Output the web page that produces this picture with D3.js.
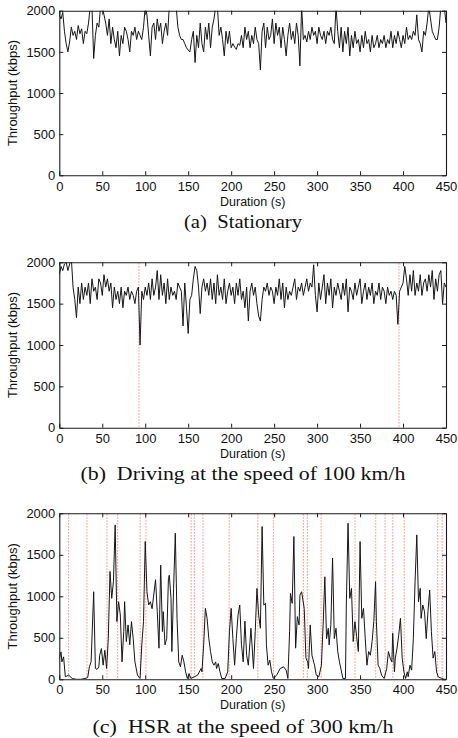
<!DOCTYPE html>
<html>
<head>
<meta charset="utf-8">
<script src="https://cdn.jsdelivr.net/npm/d3@7/dist/d3.min.js"></script>
<style>
  html, body { margin: 0; padding: 0; background: #fff; }
  svg { display: block; }
</style>
</head>
<body>
<svg id="chart" width="458" height="738"></svg>
<script>
// ---------------- data ----------------
const xTicks = [0, 50, 100, 150, 200, 250, 300, 350, 400, 450];
const yTicks = [0, 500, 1000, 1500, 2000];
const xLabel = "Duration (s)";
const yLabel = "Throughput (kbps)";
const captions = ["(a)  Stationary", "(b)  Driving at the speed of 100 km/h", "(c)  HSR at the speed of 300 km/h"];

// (a) Stationary: one sample every 2 s, from 0 s to 450 s
const stationaryStep = 2;
const stationary = [
  1950, 1900, 1980, 1750, 1600,  1500, 1620, 1800, 1700, 1750,
  1650, 1820, 1720, 1780, 1600,  1750, 1720, 1850, 2050, 2050,
  1420, 1700, 1850, 1800, 2050,  2050, 1950, 1850, 1700, 1900,
  1600, 1800, 1650, 1550, 1750,  1450, 1700, 1600, 1800, 1750,
  1650, 1500, 1750, 1700, 1800,  1650, 1750, 1700, 1650, 1800,
  2050, 1950, 1700, 1450, 1800,  1850, 1650, 1900, 1750, 1850,
  1600, 1750, 1850, 1700, 2050,  2050, 2050, 2050, 2050, 1800,
  1700, 1650, 1650, 1600, 1550,  1520, 1500, 1650, 1750, 1370,
  1700, 1550, 1850, 1600, 1500,  1800, 1650, 1850, 1550, 1800,
  1900, 2050, 2050, 1700, 1800,  1650, 1450, 1750, 1600, 1750,
  1550, 1600, 1560, 1530, 1600,  1580, 1700, 1550, 1800, 1650,
  1750, 1550, 1700, 1600, 1800,  1650, 1600, 1280, 1750, 1850,
  1550, 1800, 1650, 1700, 1900,  1600, 1850, 1700, 1800, 1550,
  1800, 1650, 1450, 1700, 1850,  1650, 1750, 1600, 1850, 1700,
  1330, 2050, 1650, 1700, 1620,  1750, 1650, 1800, 1700, 1750,
  1600, 1800, 1700, 1650, 1750,  1600, 1750, 1700, 1800, 1650,
  1600, 2050, 1750, 1550, 1800,  1500, 1750, 1600, 1800, 1450,
  1700, 1550, 1750, 1600, 1650,  1500, 1700, 1550, 1750, 1600,
  1650, 1500, 1700, 1550, 1600,  1700, 1550, 1650, 1600, 1700,
  1550, 1650, 1600, 1750, 1550,  1700, 1600, 1750, 1650, 1550,
  1700, 1600, 1800, 1650, 1700,  1650, 1750, 1700, 1950, 1650,
  1600, 1500, 1750, 1700, 1850,  2050, 1900, 1750, 1700, 1650,
  1650, 1800, 2050, 2050, 2050,  1850
];

// (b) Driving at 100 km/h: one sample every 2 s
const drivingStep = 2;
const driving = [
  1850, 1950, 1900, 1980, 2000,  1900, 1980, 2050, 1700, 1550,
  1330, 1700, 1500, 1750, 1550,  1700, 1600, 1750, 1500, 1800,
  1650, 1700, 1550, 1800, 1750,  1600, 1850, 1700, 1800, 1650,
  1750, 1450, 1700, 1550, 1650,  1500, 1700, 1450, 1650, 1600,
  1700, 1550, 1650, 1600, 1500,  1650, 1700, 1000, 1650, 1550,
  1700, 1600, 1750, 1550, 1800,  1600, 1700, 1900, 1550, 1850,
  1600, 1750, 1500, 1800, 1550,  1700, 1600, 1650, 1550, 1750,
  1700, 1650, 1230, 1750, 1450,  1140, 1550, 1600, 1800, 1950,
  1900, 1700, 1380, 1700, 1800,  1650, 1750, 1600, 1800, 1550,
  1750, 1500, 1850, 1600, 1700,  1550, 1800, 1500, 1650, 1750,
  1600, 1700, 1500, 1750, 1600,  1800, 1550, 1650, 1450, 1700,
  1290, 1650, 1750, 1600, 1700,  1500, 1350, 1290, 1550, 1700,
  1650, 1750, 1600, 1700, 1650,  1500, 1700, 1600, 1800, 1550,
  1750, 1450, 1700, 1550, 1650,  1600, 1700, 1800, 1550, 1700,
  1650, 1750, 1600, 1700, 1800,  1650, 1750, 1700, 1970, 1600,
  1400, 1750, 1550, 1700, 1850,  1500, 1750, 1600, 1800, 1450,
  1700, 1600, 1750, 1650, 1550,  1750, 1600, 1800, 1400, 1700,
  1650, 1550, 1750, 1600, 1700,  1800, 1500, 1650, 1750, 1550,
  1700, 1600, 1750, 1500, 1650,  1600, 1750, 1550, 1700, 1650,
  1500, 1700, 1600, 1650, 1550,  1650, 1600, 1250, 1650, 1700,
  1750, 1950, 1800, 1600, 1850,  1650, 1900, 1600, 1750, 1650,
  1850, 1600, 1750, 1800, 1650,  1850, 1700, 1900, 1550, 1800,
  1650, 1850, 1900, 1500, 1750,  1700
];
const drivingHandoffs = [92.7, 395.3];

// (c) HSR at 300 km/h: [time (s), throughput (kbps)]
const hsrTime = [
  0, 2, 3, 5, 7, 11, 15, 20, 25, 30, 33, 35, 37, 40, 42, 44, 46, 47, 49, 51,
  53, 55, 57, 59, 61, 63, 65, 67, 69, 71, 73, 75, 76, 78, 80, 82, 84, 86, 88, 91,
  94, 96, 98, 100, 102, 104, 106, 108, 112, 114, 116, 118, 120, 121, 123, 125, 127, 128, 130, 131,
  133, 135, 137, 139, 141, 143, 145, 147, 149, 151, 153, 157, 161, 165, 166, 168, 170, 172, 174, 176,
  178, 180, 182, 183, 185, 187, 189, 193, 196, 198, 200, 202, 204, 206, 208, 210, 212, 214, 216, 218,
  220, 223, 226, 228, 230, 232, 234, 236, 238, 240, 241, 243, 245, 247, 249, 253, 257, 261, 264, 266,
  268, 269, 271, 273, 275, 277, 279, 280, 282, 285, 287, 289, 290, 292, 294, 297, 299, 302, 305, 307,
  309, 311, 313, 314, 316, 318, 320, 322, 324, 326, 328, 330, 333, 334, 336, 338, 340, 342, 344, 346,
  348, 350, 352, 354, 356, 358, 360, 362, 364, 366, 368, 369, 371, 373, 375, 378, 381, 383, 385, 387,
  388, 390, 391, 393, 395, 397, 399, 401, 403, 405, 406, 408, 410, 412, 414, 416, 418, 420, 421, 423,
  425, 427, 429, 431, 433, 435, 437, 439, 441, 445, 448, 450
];
const hsrThroughput = [
  250, 330, 210, 270, 30, 50, 10, 0, 0, 10, 20, 150, 210, 1055, 130, 120, 150, 290, 370, 170,
  350, 130, 490, 1300, 975, 1180, 1860, 695, 935, 775, 210, 575, 935, 455, 655, 415, 695, 490, 210, 50,
  10, 415, 695, 1660, 1055, 895, 935, 850, 1200, 815, 375, 1375, 575, 815, 415, 490, 1215, 1255, 975, 335,
  1095, 1760, 735, 210, 150, 290, 210, 90, 10, 70, 10, 30, 50, 130, 90, 415, 855, 735, 490, 335,
  210, 170, 210, 130, 190, 90, 10, 10, 90, 575, 855, 490, 170, 490, 775, 895, 415, 210, 700, 290,
  170, 615, 130, 575, 1095, 775, 615, 1840, 895, 915, 415, 170, 230, 90, 10, 50, 130, 150, 110, 10,
  575, 1035, 915, 1720, 375, 755, 655, 1015, 1055, 855, 255, 210, 130, 655, 290, 170, 50, 30, 170, 655,
  1235, 490, 615, 415, 655, 1460, 490, 615, 335, 210, 110, 10, 10, 895, 1880, 975, 1095, 455, 695, 515,
  335, 1660, 735, 855, 490, 170, 335, 290, 455, 695, 1175, 695, 170, 130, 50, 10, 130, 335, 255, 210,
  555, 90, 255, 375, 535, 735, 255, 90, 10, 90, 30, 170, 110, 490, 1175, 1740, 935, 1095, 735, 895,
  815, 490, 815, 1075, 575, 255, 335, 90, 30, 10, 0, 0
];
const hsrHandoffs = [10.8, 32.2, 55.5, 67.8, 94.2, 100.8, 153.5, 157.3, 167.1, 197.7, 231, 249.2,
  284.1, 288.7, 304.7, 344.2, 368.2, 379.1, 388, 401.5, 440.3, 445.7];

// ---------------- layout ----------------
const svg = d3.select("#chart");
const plotLeft = 59.3, plotRight = 446;
const panels = [
  { top: 10.7, bottom: 175.3, tickBase: 191, labelBase: 205.5, capBase: 227.5, capWidth: 118,
    data: stationary.map((v, i) => [i * stationaryStep, v]), handoffs: [] },
  { top: 262.3, bottom: 427.7, tickBase: 443, labelBase: 457.5, capBase: 479.5, capWidth: 325,
    data: driving.map((v, i) => [i * drivingStep, v]), handoffs: drivingHandoffs },
  { top: 513.3, bottom: 679.3, tickBase: 694, labelBase: 708.5, capBase: 733, capWidth: 301,
    data: hsrTime.map((t, i) => [t, hsrThroughput[i]]), handoffs: hsrHandoffs }
];

const font = "Liberation Sans, Arial, Helvetica, sans-serif";
const serif = "Liberation Serif, Times New Roman, Times, serif";
const axisColor = "#1a1a1a";

panels.forEach((p, idx) => {
  const x = d3.scaleLinear().domain([0, 450]).range([plotLeft, plotRight]);
  const y = d3.scaleLinear().domain([0, 2000]).range([p.bottom, p.top]);
  const g = svg.append("g");

  const clipId = "clip" + idx;
  svg.append("defs").append("clipPath").attr("id", clipId)
    .append("rect").attr("x", plotLeft).attr("y", p.top)
    .attr("width", plotRight - plotLeft).attr("height", p.bottom - p.top);

  // handoff markers
  g.append("g").selectAll("line").data(p.handoffs).join("line")
    .attr("x1", d => x(d)).attr("x2", d => x(d))
    .attr("y1", p.top + 1).attr("y2", p.bottom)
    .attr("stroke", "#ff6b6b").attr("stroke-opacity", 0.85).attr("stroke-width", 1.1)
    .attr("stroke-dasharray", "1.2,1.8");

  // throughput line
  const line = d3.line().x(d => x(d[0])).y(d => y(d[1]));
  g.append("path").datum(p.data)
    .attr("clip-path", `url(#${clipId})`)
    .attr("fill", "none").attr("stroke", "#161616").attr("stroke-width", 1)
    .attr("stroke-linejoin", "round")
    .attr("d", line);

  // axes (MATLAB-like box with inward ticks)
  const styleAxis = sel => {
    sel.selectAll("path.domain").attr("stroke", axisColor).attr("stroke-width", 1.1);
    sel.selectAll(".tick line").attr("stroke", axisColor).attr("stroke-width", 1);
    sel.selectAll(".tick text").attr("fill", "#111").style("font-family", font).style("font-size", "13px");
  };
  const bottomAxis = g.append("g").attr("transform", `translate(0,${p.bottom})`)
    .call(d3.axisBottom(x).tickValues(xTicks).tickSizeInner(-4).tickSizeOuter(0).tickPadding(6).tickFormat(d3.format("d")));
  bottomAxis.selectAll(".tick text").attr("dy", null)
    .attr("y", p.tickBase - p.bottom);
  styleAxis(bottomAxis);

  const topAxis = g.append("g").attr("transform", `translate(0,${p.top})`)
    .call(d3.axisTop(x).tickValues(xTicks).tickSizeInner(-4).tickSizeOuter(0).tickFormat(""));
  styleAxis(topAxis);

  const leftAxis = g.append("g").attr("transform", `translate(${plotLeft},0)`)
    .call(d3.axisLeft(y).tickValues(yTicks).tickSizeInner(-4).tickSizeOuter(0).tickPadding(4).tickFormat(d3.format("d")));
  styleAxis(leftAxis);

  const rightAxis = g.append("g").attr("transform", `translate(${plotRight},0)`)
    .call(d3.axisRight(y).tickValues(yTicks).tickSizeInner(-4).tickSizeOuter(0).tickFormat(""));
  styleAxis(rightAxis);

  // axis labels
  g.append("text").attr("x", (plotLeft + plotRight) / 2).attr("y", p.labelBase)
    .attr("text-anchor", "middle").style("font-family", font).style("font-size", "12.5px")
    .attr("fill", "#111").text(xLabel);

  g.append("text")
    .attr("transform", `translate(17,${(p.top + p.bottom) / 2}) rotate(-90)`)
    .attr("text-anchor", "middle").style("font-family", font).style("font-size", "13px")
    .attr("fill", "#111").text(yLabel);

  // caption
  g.append("text").attr("x", 243 - p.capWidth / 2).attr("y", p.capBase)
    .attr("textLength", p.capWidth).attr("lengthAdjust", "spacingAndGlyphs")
    .style("font-family", serif).style("font-size", "18px").style("white-space", "pre")
    .attr("fill", "#111").text(captions[idx]);
});
</script>
</body>
</html>
